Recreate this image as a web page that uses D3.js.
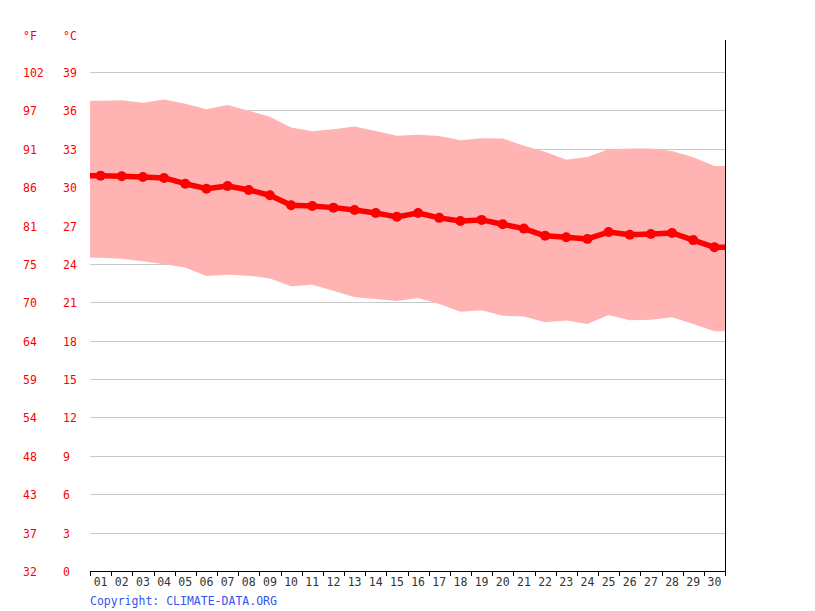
<!DOCTYPE html>
<html>
<head>
<meta charset="utf-8">
<script src="https://cdn.jsdelivr.net/npm/d3@7"></script>
<style>
  body { margin: 0; background: #fff; }
  text { font-family: "DejaVu Sans Mono", monospace; }
</style>
</head>
<body>
<svg id="chart" width="815" height="611"></svg>
<script>
// days of the month
var days = d3.range(1, 31).map(function (d) { return d < 10 ? '0' + d : '' + d; });
// daily mean temperature, °C
var meanTemp = [30.9, 30.85, 30.79, 30.72, 30.27, 29.88, 30.09, 29.78, 29.37, 28.58,
  28.53, 28.4, 28.22, 27.98, 27.68, 27.98, 27.6, 27.36, 27.44, 27.1,
  26.76, 26.2, 26.08, 25.95, 26.49, 26.28, 26.34, 26.42, 25.86, 25.3];
// daily max temperature, °C
var maxTemp = [36.76, 36.79, 36.6, 36.86, 36.52, 36.08, 36.42, 35.98, 35.5, 34.66,
  34.36, 34.52, 34.75, 34.39, 34.02, 34.1, 34.0, 33.66, 33.82, 33.8,
  33.23, 32.77, 32.15, 32.36, 32.96, 33.03, 33.03, 32.83, 32.33, 31.65];
// daily min temperature, °C
var minTemp = [24.49, 24.41, 24.2, 23.97, 23.73, 23.06, 23.16, 23.08, 22.87, 22.26,
  22.38, 21.91, 21.39, 21.26, 21.1, 21.34, 20.87, 20.27, 20.37, 19.95,
  19.9, 19.44, 19.57, 19.3, 20.0, 19.59, 19.64, 19.83, 19.3, 18.73];
// y ticks
var celsiusTicks = d3.range(0, 40, 3);
var fahrenheitTicks = ['32', '37', '43', '48', '54', '59', '64', '70', '75', '81', '86', '91', '97', '102'];

var plotLeft = 90, plotRight = 725, plotTop = 72, plotBottom = 571;
var svg = d3.select('#chart');

var x = d3.scaleBand().domain(days).range([plotLeft, plotRight]);
var y = d3.scaleLinear().domain([0, 39]).range([plotBottom, plotTop]);

// grid lines
svg.append('g')
  .selectAll('line')
  .data(celsiusTicks.slice(1))
  .enter()
  .append('line')
  .attr('x1', plotLeft)
  .attr('x2', plotRight)
  .attr('y1', (d) => Math.round(y(d)) + 0.5)
  .attr('y2', (d) => Math.round(y(d)) + 0.5)
  .attr('stroke', '#c8c8c8')
  .attr('stroke-width', 1);

// left labels
var labels = svg.append('g').attr('fill', '#ff0000').style('font-size', '11.5px');
labels.append('text').attr('x', 23).attr('y', 40).text('°F');
labels.append('text').attr('x', 63).attr('y', 40).text('°C');
labels.selectAll('.c')
  .data(celsiusTicks)
  .enter()
  .append('text')
  .attr('class', 'c')
  .attr('x', 63)
  .attr('y', (d) => y(d) + 5)
  .text((d) => d);
labels.selectAll('.f')
  .data(fahrenheitTicks)
  .enter()
  .append('text')
  .attr('class', 'f')
  .attr('x', 23)
  .attr('y', (d, i) => y(celsiusTicks[i]) + 5)
  .text((d) => d);

// points padded to the plot edges
var pts = days.map((d, i) => ({ x: x(d) + x.bandwidth() / 2, mean: meanTemp[i], max: maxTemp[i], min: minTemp[i] }));
var padded = [{ x: plotLeft, mean: meanTemp[0], max: maxTemp[0], min: minTemp[0] }]
  .concat(pts)
  .concat([{ x: plotRight, mean: meanTemp[29], max: maxTemp[29], min: minTemp[29] }]);

svg.append('path')
  .datum(padded)
  .attr('fill', '#ffb3b3')
  .attr('d', d3.area().x((d) => d.x).y0((d) => y(d.min)).y1((d) => y(d.max)));

svg.append('path')
  .datum(padded)
  .attr('fill', 'none')
  .attr('stroke', '#ff0000')
  .attr('stroke-width', 5.5)
  .attr('stroke-linejoin', 'round')
  .attr('d', d3.line().x((d) => d.x).y((d) => y(d.mean)));

svg.append('g')
  .selectAll('circle')
  .data(pts)
  .enter()
  .append('circle')
  .attr('cx', (d) => d.x)
  .attr('cy', (d) => y(d.mean))
  .attr('r', 5)
  .attr('fill', '#ff0000');

// right border
svg.append('line')
  .attr('x1', plotRight + 0.5).attr('x2', plotRight + 0.5)
  .attr('y1', 40).attr('y2', plotBottom)
  .attr('stroke', '#000');

// x axis
var xAxis = svg.append('g');
xAxis.append('line')
  .attr('x1', plotLeft).attr('x2', plotRight + 1)
  .attr('y1', plotBottom + 0.5).attr('y2', plotBottom + 0.5)
  .attr('stroke', '#000');
xAxis.selectAll('.tick')
  .data(d3.range(days.length + 1))
  .enter()
  .append('line')
  .attr('x1', (i) => Math.round(plotLeft + i * x.step()) + 0.5)
  .attr('x2', (i) => Math.round(plotLeft + i * x.step()) + 0.5)
  .attr('y1', plotBottom)
  .attr('y2', plotBottom + 5)
  .attr('stroke', '#000');
xAxis.selectAll('.lab')
  .data(days)
  .enter()
  .append('text')
  .attr('x', (d) => x(d) + x.bandwidth() / 2)
  .attr('y', 586)
  .attr('text-anchor', 'middle')
  .attr('fill', '#333')
  .style('font-size', '11.5px')
  .text((d) => d);

svg.append('text')
  .attr('x', 90)
  .attr('y', 605)
  .attr('fill', '#3355ee')
  .style('font-size', '11.5px')
  .text('Copyright: CLIMATE-DATA.ORG');
</script>
</body>
</html>
